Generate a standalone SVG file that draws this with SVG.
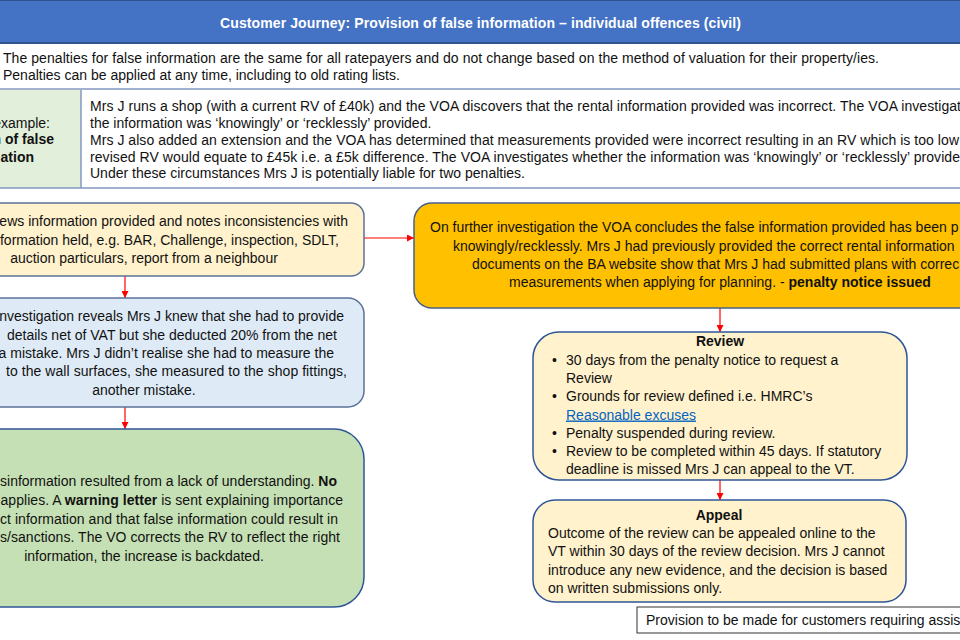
<svg xmlns="http://www.w3.org/2000/svg" width="960" height="640" viewBox="0 0 960 640">
<style>
.t{font-family:"Liberation Sans",Arial,sans-serif;font-size:14px;fill:#111;}
.b{font-weight:bold;}
.h{font-family:"Liberation Sans",Arial,sans-serif;font-size:14px;font-weight:bold;fill:#fff;}
.lnk{fill:#0563C1;text-decoration:underline;}
.conn{stroke:#FF0000;stroke-width:1.2;fill:none;}
.cream{fill:#FFF2CC;}
.grid{stroke:#8497C0;stroke-width:1.5;}
</style>
<defs>
<marker id="arr" viewBox="0 0 10 10" refX="10" refY="5" markerWidth="7" markerHeight="7" markerUnits="userSpaceOnUse" orient="auto">
<path d="M0,0 L10,5 L0,10 z" fill="#FF0000"/>
</marker>
</defs>
<rect width="960" height="640" fill="#fff"/>
<g id="header">
<rect x="-2" y="0" width="964" height="43" fill="#4472C4" stroke="#2F528F" stroke-width="2"/>
<text class="h" x="220" y="28" textLength="521" lengthAdjust="spacing">Customer Journey: Provision of false information – individual offences (civil)</text>
</g>
<g id="intro">
<line class="grid" x1="0" y1="89" x2="960" y2="89"/>
<text class="t" x="3" y="63" textLength="876" lengthAdjust="spacing">The penalties for false information are the same for all ratepayers and do not change based on the method of valuation for their property/ies.</text>
<text class="t" x="3" y="80">Penalties can be applied at any time, including to old rating lists.</text>
</g>
<g id="example">
<rect x="-2" y="90" width="83" height="98" fill="#E2EFDA"/>
<line class="grid" x1="81" y1="90" x2="81" y2="188"/>
<line class="grid" x1="0" y1="188" x2="960" y2="188"/>
<text class="t" x="50" y="128" text-anchor="end">example:</text>
<text class="t b" x="54" y="144" text-anchor="end">n of false</text>
<text class="t b" x="34" y="162" text-anchor="end">ation</text>
<text class="t" x="90" y="111" textLength="871" lengthAdjust="spacing">Mrs J runs a shop (with a current RV of £40k) and the VOA discovers that the rental information provided was incorrect. The VOA investigat</text>
<text class="t" x="90" y="128">the information was ‘knowingly’ or ‘recklessly’ provided.</text>
<text class="t" x="90" y="145" textLength="869" lengthAdjust="spacing">Mrs J also added an extension and the VOA has determined that measurements provided were incorrect resulting in an RV which is too low</text>
<text class="t" x="90" y="162" textLength="870" lengthAdjust="spacing">revised RV would equate to £45k i.e. a £5k difference. The VOA investigates whether the information was ‘knowingly’ or ‘recklessly’ provide</text>
<text class="t" x="90" y="178">Under these circumstances Mrs J is potentially liable for two penalties.</text>
</g>
<g id="connectors">
<line class="conn" x1="125" y1="276" x2="125" y2="298" marker-end="url(#arr)"/>
<line class="conn" x1="125" y1="407" x2="125" y2="429" marker-end="url(#arr)"/>
<line class="conn" x1="364" y1="238" x2="414" y2="238" marker-end="url(#arr)"/>
<line class="conn" x1="720" y1="308" x2="720" y2="332" marker-end="url(#arr)"/>
<line class="conn" x1="720" y1="480" x2="720" y2="500" marker-end="url(#arr)"/>
</g>
<g id="review-info">
<rect x="-80" y="203" width="444" height="73" rx="13" class="cream" stroke="#5B7298" stroke-width="1.5"/>
<text class="t" x="348" y="226" text-anchor="end">ews information provided and notes inconsistencies with</text>
<text class="t" x="339" y="244.5" text-anchor="end">formation held, e.g. BAR, Challenge, inspection, SDLT,</text>
<text class="t" x="144" y="263" text-anchor="middle">auction particulars, report from a neighbour</text>
</g>
<g id="investigation">
<rect x="-80" y="298" width="444" height="109" rx="16" fill="#DEEBF7" stroke="#5B7298" stroke-width="1.5"/>
<text class="t" x="344" y="321" text-anchor="end">nvestigation reveals Mrs J knew that she had to provide</text>
<text class="t" x="337" y="339.5" text-anchor="end">details net of VAT but she deducted 20% from the net</text>
<text class="t" x="334" y="358" text-anchor="end">a mistake. Mrs J didn’t realise she had to measure the</text>
<text class="t" x="6" y="376" textLength="341" lengthAdjust="spacing">to the wall surfaces, she measured to the shop fittings,</text>
<text class="t" x="144" y="394.5" text-anchor="middle">another mistake.</text>
</g>
<g id="warning">
<rect x="-80" y="429" width="444" height="178" rx="30" fill="#C5E0B4" stroke="#2F5597" stroke-width="1.5"/>
<text class="t" x="337" y="486" text-anchor="end">sinformation resulted from a lack of understanding.  <tspan class="b">No</tspan></text>
<text class="t" x="0.5" y="505" textLength="342.5" lengthAdjust="spacing">applies. A <tspan class="b">warning letter</tspan> is sent explaining importance</text>
<text class="t" x="0" y="524" textLength="338" lengthAdjust="spacing">ct information and that false information could result in</text>
<text class="t" x="0" y="542" textLength="340" lengthAdjust="spacing">s/sanctions. The VO corrects the RV to reflect the right</text>
<text class="t" x="144" y="560.5" text-anchor="middle">information, the increase is backdated.</text>
</g>
<g id="penalty">
<rect x="414" y="203" width="600" height="105" rx="18" fill="#FFC000" stroke="#4A5F8A" stroke-width="1.5"/>
<text class="t" x="430" y="232">On further investigation the VOA concludes the false information provided has been p</text>
<text class="t" x="453" y="251">knowingly/recklessly.  Mrs J had previously provided the correct rental information</text>
<text class="t" x="472" y="269">documents on the BA website show that Mrs J had submitted plans with correc</text>
<text class="t" x="720" y="287" text-anchor="middle">measurements when applying for planning. - <tspan class="b">penalty notice issued</tspan></text>
</g>
<g id="review">
<rect x="533" y="332" width="374" height="148" rx="26" class="cream" stroke="#2F5597" stroke-width="1.5"/>
<text class="t b" x="720" y="346" text-anchor="middle">Review</text>
<text class="t" x="552" y="364.5">•</text>
<text class="t" x="566" y="364.5">30 days from the penalty notice to request a</text>
<text class="t" x="566" y="383">Review</text>
<text class="t" x="552" y="401">•</text>
<text class="t" x="566" y="401">Grounds for review defined i.e. HMRC’s</text>
<text class="t lnk" x="566" y="419.5">Reasonable excuses</text>
<text class="t" x="552" y="438">•</text>
<text class="t" x="566" y="438">Penalty suspended during review.</text>
<text class="t" x="552" y="456">•</text>
<text class="t" x="566" y="456">Review to be completed within 45 days. If statutory</text>
<text class="t" x="566" y="474">deadline is missed Mrs J can appeal to the VT.</text>
</g>
<g id="appeal">
<rect x="533" y="500" width="373" height="102" rx="22" class="cream" stroke="#2F5597" stroke-width="1.5"/>
<text class="t b" x="719" y="519.5" text-anchor="middle">Appeal</text>
<text class="t" x="548" y="537.5">Outcome of the review can be appealed online to the</text>
<text class="t" x="548" y="556">VT within 30 days of the review decision. Mrs J cannot</text>
<text class="t" x="548" y="574.5">introduce any new evidence, and the decision is based</text>
<text class="t" x="548" y="593">on written submissions only.</text>
</g>
<g id="assistance">
<rect x="637" y="607" width="340" height="26" fill="#fff" stroke="#333" stroke-width="1"/>
<text class="t" x="646" y="625">Provision to be made for customers requiring assis</text>
</g>
</svg>
